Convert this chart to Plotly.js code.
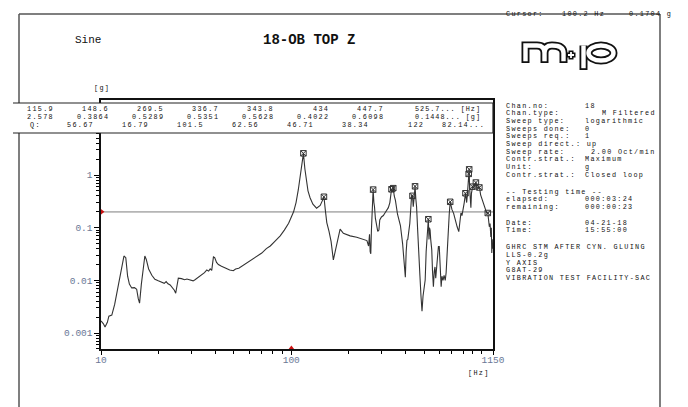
<!DOCTYPE html>
<html><head><meta charset="utf-8">
<script src="https://cdn.plot.ly/plotly-3.0.1.min.js"></script>
<style>html,body{margin:0;padding:0;background:#fff}#chart{width:688px;height:407px}</style>
</head><body><div id="chart"></div>
<script>
// ---------- DATA ----------
const freqHz = [10,10.3,10.5,10.8,11.0,11.4,11.8,12.1,12.6,13.0,13.2,13.5,13.8,14.1,14.5,15.0,15.4,15.7,15.95,16.3,16.7,17.0,17.3,17.8,18.5,19.2,20.0,21.0,21.5,22.0,22.5,23.1,23.8,24.3,24.7,25.0,25.5,26.5,27.5,28.3,29.5,30.5,31.2,32.5,33.9,35.0,36.0,36.8,37.5,38.2,39.0,39.6,40.5,41.4,43,45,46,47.5,49.6,51,53,56.3,60,66,70,74,77.6,82,87.5,92,96.9,102.9,106,108.9,111.5,113.4,115.9,118,120,122.5,125.6,130,135.9,142,146,148.6,151,153.8,158,162,166.5,170,175,180.7,188,204,221,239,250,255,258,260,262,264,267,269.5,272,274,277,280,285,289,292,298,305,311,318,324,330,334,336.7,340,343.8,348,353,362,375,385,392,398,402,406,410,414,420,427,430,434,438,442,447.7,452,456,462,468,475,481,487,493,500,506,512,518,525.7,530,533,537,541,548,553,559,565,570,575,580,588,594,600,607,614,620,628,636,645,652,660,670,677,685,692,700,714,730,745,760,772,780,790,801,812,824,830,836,843,850,857,862,866,872,880,886,893,900,910,920,935,945,955,965,975,990,1005,1020,1035,1050,1065,1080,1090,1100,1110,1120,1127,1133,1140,1145,1150];
const accelG = [0.0017,0.0015,0.0013,0.0016,0.0021,0.0022,0.0035,0.0057,0.0118,0.025,0.029,0.027,0.012,0.0085,0.0072,0.0073,0.0068,0.0045,0.0037,0.0085,0.02,0.029,0.025,0.0165,0.0125,0.0105,0.0098,0.0093,0.0088,0.0095,0.0086,0.0082,0.0072,0.0065,0.0057,0.0075,0.011,0.0108,0.0103,0.0106,0.0101,0.0098,0.0103,0.0115,0.0126,0.014,0.0158,0.015,0.0165,0.0155,0.028,0.027,0.022,0.02,0.0185,0.017,0.0165,0.0158,0.0153,0.0165,0.017,0.0195,0.0225,0.028,0.033,0.04,0.045,0.055,0.07,0.09,0.121,0.2,0.3,0.52,0.9,1.44,2.578,1.3,0.75,0.5,0.37,0.28,0.235,0.265,0.33,0.3864,0.22,0.125,0.085,0.055,0.0245,0.035,0.055,0.094,0.078,0.07,0.066,0.06,0.057,0.045,0.075,0.035,0.032,0.09,0.3,0.5289,0.3,0.25,0.15,0.12,0.085,0.09,0.14,0.16,0.17,0.19,0.22,0.24,0.3,0.45,0.5351,0.48,0.5628,0.4,0.33,0.18,0.11,0.05,0.025,0.0115,0.035,0.058,0.06,0.078,0.12,0.3,0.42,0.4022,0.25,0.35,0.6098,0.35,0.25,0.09,0.044,0.012,0.005,0.0026,0.005,0.008,0.0102,0.035,0.09,0.1448,0.06,0.1,0.09,0.06,0.038,0.015,0.0076,0.015,0.018,0.011,0.016,0.028,0.044,0.044,0.015,0.0076,0.012,0.01,0.0125,0.01,0.014,0.04,0.09,0.18,0.31,0.25,0.22,0.187,0.13,0.104,0.084,0.15,0.19,0.17,0.217,0.3,0.45,0.38,0.3,0.42,0.75,1.05,1.28,0.6,0.28,0.24,0.45,0.55,0.62,0.56,0.65,0.72,0.62,0.55,0.58,0.6,0.42,0.36,0.31,0.26,0.217,0.19,0.19,0.15,0.104,0.12,0.067,0.1,0.033,0.06,0.04,0.05];

const peakFreq = [115.9,148.6,269.5,336.7,343.8,434,447.7,525.7,685,824,857,862,897,935,975,1080];
const peakAmp  = [2.578,0.3864,0.5289,0.5351,0.5628,0.4022,0.6098,0.1448,0.31,0.45,1.05,1.28,0.6,0.72,0.58,0.19];

const tableFreq = ['115.9','148.6','269.5','336.7','343.8','434','447.7','525.7'];
const tableAmp  = ['2.578','0.3864','0.5289','0.5351','0.5628','0.4022','0.6098','0.1448'];
const tableQ    = ['56.67','16.79','101.5','62.56','46.71','38.34','122','82.14'];

const limitG = 0.2;
const cursorHz = 100.2, cursorG = 0.1704;

const xTickVals = [10,100,1150], xTickText = ['10','100','1150'];
const yTickVals = [0.001,0.01,0.1,1], yTickText = ['0.001','0.01','0.1','1'];

const infoLabels = ['Chan.no:','Chan.type:','Sweep type:','Sweeps done:','Sweeps req.:','Sweep direct.: up','Sweep rate:','Contr.strat.:','Unit:','Contr.strat.:'];
const infoValues = ['18','M Filtered','logarithmic','0','1','','2.00 Oct/min','Maximum','g','Closed loop'];
const timeLabels = ['-- Testing time --','elapsed:','remaining:'];
const timeValues = ['','000:03:24','000:00:23'];
const dateLabels = ['Date:','Time:'];
const dateValues = ['04-21-18','15:55:00'];
const noteLines = ['GHRC STM AFTER CYN. GLUING','LLS-0.2g','Y AXIS','G8AT-29','VIBRATION TEST FACILITY-SAC'];

// ---------- LAYOUT HELPERS ----------
const W=688,H=407,L=101,R=493,T=100,B=349;
const PW=R-L, PH=B-T;
const px = x => (x-L)/PW;
const py = y => (B-y)/PH;
const MONO = 'Liberation Mono, Courier New, monospace';
const TXT = '#111';
const TICKC = '#6a7796';
const sp = (t, ls) => '<span style="letter-spacing:'+(ls||1.3)+'px">'+t+'</span>';
const SMALL = {family:MONO, size:6.8, color:TXT};

const annotations = [];
function ann(text, x, y, o={}) {
  annotations.push(Object.assign({text, xref:'paper', yref:'paper', x:px(x), y:py(y),
    xanchor:'left', yanchor:'middle', showarrow:false, font:SMALL}, o));
}
const shapes = [];
function seg(x0,y0,x1,y1,color,w){ shapes.push({type:'line',xref:'paper',yref:'paper',x0:px(x0),y0:py(y0),x1:px(x1),y1:py(y1),line:{color,width:w},layer:'above'}); }
function pathPx(cmds){ return cmds.map(c => c[0] + c.slice(1).map((v,i)=> (i%2===0? px(v): py(v)).toFixed(5)).join(',')).join(' '); }
function pathShape(cmds,color,w){ shapes.push({type:'path',xref:'paper',yref:'paper',path:pathPx(cmds),line:{color,width:w},fillcolor:'rgba(0,0,0,0)',layer:'above'}); }

// outer frame
seg(19,14,660,14,'#555',1.5);
seg(19,14,19,407,'#555',1.5);
seg(660,14,660,407,'#555',1.5);
// peak table box
shapes.push({type:'rect',xref:'paper',yref:'paper',x0:px(13),x1:px(493),y0:py(103),y1:py(133),fillcolor:'#fff',line:{width:0},layer:'above'});
seg(13,103,493,103,'#222',1.2);
seg(13,133,493,133,'#222',1.2);
seg(493,103,493,133,'#222',1.2);

// logo (outlined strokes)
const k=0.5523, cx=601, cy=53, rx=12.5, ry=7.5;
const bowl = [['M',cx-rx,cy],['C',cx-rx,cy-k*ry,cx-k*rx,cy-ry,cx,cy-ry],['C',cx+k*rx,cy-ry,cx+rx,cy-k*ry,cx+rx,cy],
  ['C',cx+rx,cy+k*ry,cx+k*rx,cy+ry,cx,cy+ry],['C',cx-k*rx,cy+ry,cx-rx,cy+k*ry,cx-rx,cy],['Z']];
function mPath(b){ return [['M',525.5,b],['L',525.5,45.5],['L',537,45.5],['Q',544.5,45.5,544.5,53],['L',544.5,b],
  ['M',544.5,53],['Q',544.5,45.5,552,45.5],['Q',563.5,45.5,563.5,53],['L',563.5,b]]; }
pathShape(mPath(63),'#111',8);
pathShape([['M',566.5,55],['L',575.5,55],['M',571,50.5],['L',571,59.5]],'#111',5);
pathShape([['M',583.5,45.5],['L',583.5,70]],'#111',8);
pathShape(bowl,'#111',8);
pathShape(mPath(61.2),'#fff',4.4);
pathShape([['M',568,55],['L',574,55],['M',571,52],['L',571,58]],'#fff',1.8);
pathShape([['M',583.5,45.5],['L',583.5,68.2]],'#fff',4.4);
pathShape(bowl,'#fff',4.4);

// titles
ann('Sine',73,40,{font:{family:MONO,size:11,color:TXT}});
ann('<b>18-OB TOP Z</b>',309,40,{xanchor:'center',font:{family:MONO,size:14,color:TXT}});
ann(sp('[g]'),102,88,{xanchor:'center'});
ann(sp('[Hz]'),479,373,{xanchor:'center'});
// cursor readout
ann(sp('Cursor:'),504,14); ann(sp(cursorHz+' Hz'),560,14); ann(sp(cursorG+' g'),627,14);

// peak table
const r1=109, r2=117, r3=125;
for (let c=0;c<7;c++){
  ann(sp(tableFreq[c]),56+55*c,r1,{xanchor:'right'});
  ann(sp(tableAmp[c]),56+55*c,r2,{xanchor:'right'});
  ann(sp(tableQ[c]),96+55*c,r3,{xanchor:'right'});
}
ann(sp(tableFreq[7]+'... [Hz]',1.0),413,r1);
ann(sp(tableAmp[7]+'... [g]',1.0),413,r2);
ann(sp('Q:'),28,r3);
ann(sp(tableQ[7]+'...'),440,r3);

// info panel
const y0=105.5, dy=7.7;
infoLabels.forEach((t,i)=>{
  const yy=y0+dy*i;
  ann(sp(t),504,yy);
  if (infoValues[i]) {
    if (i===1||i===6) ann(sp(infoValues[i]),658,yy,{xanchor:'right'});
    else ann(sp(infoValues[i]),583,yy);
  }
});
timeLabels.forEach((t,i)=>{ const yy=191.7+dy*i; ann(sp(t),504,yy); if(timeValues[i]) ann(sp(timeValues[i]),583,yy); });
dateLabels.forEach((t,i)=>{ const yy=222.7+dy*i; ann(sp(t),504,yy); ann(sp(dateValues[i]),583,yy); });
noteLines.forEach((t,i)=>{ ann(sp(t),504,247.3+dy*i); });

// minor ticks
const minorX=[], minorY=[];
for (let d=1; d<=1000; d*=10) for (let m=2;m<=9;m++){ if(d*m<1150 && d*m>10) minorX.push(d*m); }
minorX.push(1000);
for (let e=-4; e<=1; e++) for (let m=2;m<=9;m++) minorY.push(m*Math.pow(10,e));

const yLo = -(349-175)/52.7, yHi = (175-100)/52.7;

const traces = [
  {x:[10,1150], y:[limitG,limitG], mode:'lines', line:{color:'#b5b5b5',width:1.6}, hoverinfo:'skip'},
  {x:freqHz, y:accelG, mode:'lines', line:{color:'#333',width:1.1}, hoverinfo:'skip'},
  {x:peakFreq, y:peakAmp, mode:'markers', marker:{symbol:'square-x-open',size:5.5,color:'#333',line:{width:1}}, hoverinfo:'skip'},
  {x:[10], y:[limitG], mode:'markers', cliponaxis:false, marker:{symbol:'triangle-right',size:7,color:'#cc1111'}, hoverinfo:'skip'},
  {x:[cursorHz], y:[Math.pow(10,yLo)], mode:'markers', cliponaxis:false, marker:{symbol:'triangle-up',size:7,color:'#cc1111'}, hoverinfo:'skip'}
];

const layout = {
  width:W, height:H, margin:{l:L,r:W-R,t:T,b:H-B,pad:0},
  paper_bgcolor:'#fff', plot_bgcolor:'#fff', showlegend:false, hovermode:false,
  xaxis:{type:'log', range:[1,Math.log10(1150)], tickvals:xTickVals, ticktext:xTickText,
    ticks:'outside', ticklen:4, tickwidth:1, tickcolor:'#000', showline:true, linecolor:'#111', linewidth:1.6, mirror:true,
    showgrid:false, zeroline:false, ticklabelstandoff:-3, tickfont:{family:MONO,size:9.5,color:TICKC},
    minor:{ticks:'outside',ticklen:3,tickcolor:'#000',tickvals:minorX,showgrid:false}},
  yaxis:{type:'log', range:[yLo,yHi], tickvals:yTickVals, ticktext:yTickText,
    ticks:'outside', ticklen:5, tickwidth:1, tickcolor:'#000', showline:true, linecolor:'#111', linewidth:1.6, mirror:true,
    showgrid:false, zeroline:false, tickfont:{family:MONO,size:9.5,color:TICKC},
    minor:{ticks:'outside',ticklen:3,tickcolor:'#000',tickvals:minorY,showgrid:false}},
  shapes, annotations
};
Plotly.newPlot('chart', traces, layout, {staticPlot:true, displayModeBar:false});
</script></body></html>
